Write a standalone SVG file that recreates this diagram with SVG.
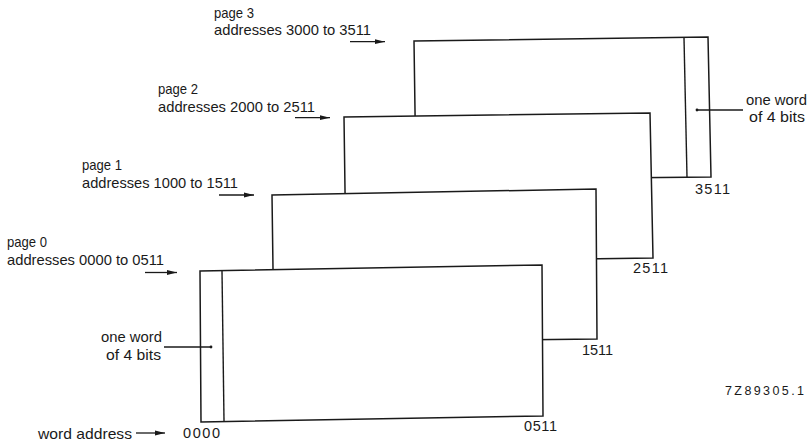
<svg xmlns="http://www.w3.org/2000/svg" width="809" height="443" viewBox="0 0 809 443">
<defs>
<style>
.pg{fill:#fff;stroke:#1a1a1a;stroke-width:1.5;stroke-linejoin:miter}
.ln{fill:none;stroke:#1a1a1a;stroke-width:1.4}
.ar{fill:none;stroke:#1a1a1a;stroke-width:1.3}
.t{font-family:"Liberation Sans",Arial,sans-serif;font-size:15px;fill:#1a1a1a}
.n{font-family:"Liberation Sans",Arial,sans-serif;font-size:14.5px;fill:#1a1a1a}
.c{font-family:"Liberation Sans",Arial,sans-serif;font-size:12.5px;fill:#1a1a1a}
</style>
<marker id="ah" viewBox="0 0 10 6" refX="10" refY="3" markerWidth="10" markerHeight="6" markerUnits="userSpaceOnUse" orient="auto">
<path d="M0,0.6 L10,3 L0,5.4 Z" fill="#1a1a1a"/>
</marker>
</defs>
<rect width="809" height="443" fill="#fff"/>

<g id="page3">
<polygon class="pg" points="414,41 708,37 711,177 416,180"/>
<line class="ln" x1="684" y1="38" x2="687" y2="177"/>
<text class="n" x="695" y="194" textLength="35" lengthAdjust="spacing">3511</text>
</g>
<g id="page2">
<polygon class="pg" points="344,117 650,113 653,258 346,262"/>
<text class="n" x="633" y="273" textLength="35" lengthAdjust="spacing">2511</text>
</g>
<g id="page1">
<polygon class="pg" points="272,195 596,189 597,339 274,343"/>
<text class="n" x="582" y="355" textLength="31" lengthAdjust="spacing">1511</text>
</g>
<g id="page0">
<polygon class="pg" points="200,271 542,265 543,416 201,422"/>
<line class="ln" x1="222" y1="271" x2="224" y2="421"/>
<text class="n" x="524" y="431" textLength="33" lengthAdjust="spacing">0511</text>
<text class="n" x="183" y="438" textLength="37" lengthAdjust="spacing">0000</text>
</g>

<g id="label-page3">
<text class="t" x="214" y="17.5" textLength="40" lengthAdjust="spacingAndGlyphs">page 3</text>
<text class="t" x="214" y="35" textLength="157" lengthAdjust="spacingAndGlyphs">addresses 3000 to 3511</text>
</g>
<g id="label-page2">
<text class="t" x="158" y="94" textLength="40" lengthAdjust="spacingAndGlyphs">page 2</text>
<text class="t" x="158" y="111.5" textLength="157" lengthAdjust="spacingAndGlyphs">addresses 2000 to 2511</text>
</g>
<g id="label-page1">
<text class="t" x="82" y="170" textLength="40" lengthAdjust="spacingAndGlyphs">page 1</text>
<text class="t" x="82" y="188" textLength="156" lengthAdjust="spacingAndGlyphs">addresses 1000 to 1511</text>
</g>
<g id="label-page0">
<text class="t" x="7" y="246.5" textLength="40" lengthAdjust="spacingAndGlyphs">page 0</text>
<text class="t" x="7" y="264.5" textLength="157" lengthAdjust="spacingAndGlyphs">addresses 0000 to 0511</text>
</g>
<g id="label-word-right">
<text class="t" x="746" y="105" textLength="61" lengthAdjust="spacingAndGlyphs">one word</text>
<text class="t" x="749" y="122" textLength="56" lengthAdjust="spacingAndGlyphs">of 4 bits</text>
</g>
<g id="label-word-left">
<text class="t" x="101" y="342" textLength="61" lengthAdjust="spacingAndGlyphs">one word</text>
<text class="t" x="106" y="359.5" textLength="55" lengthAdjust="spacingAndGlyphs">of 4 bits</text>
</g>
<g id="label-word-address">
<text class="t" x="38" y="438.5" textLength="94" lengthAdjust="spacingAndGlyphs">word address</text>
</g>
<g id="label-code">
<text class="c" x="725" y="395" textLength="79" lengthAdjust="spacing">7Z89305.1</text>
</g>

<g id="connectors">
<line class="ar" x1="350" y1="41.7" x2="385" y2="41.7" marker-end="url(#ah)"/>
<line class="ar" x1="295" y1="117.7" x2="330" y2="117.7" marker-end="url(#ah)"/>
<line class="ar" x1="219" y1="195" x2="254" y2="195" marker-end="url(#ah)"/>
<line class="ar" x1="145" y1="272.5" x2="177" y2="272.5" marker-end="url(#ah)"/>
<line class="ar" x1="136" y1="433" x2="165" y2="433" marker-end="url(#ah)"/>
<line class="ar" x1="697" y1="110" x2="743" y2="110"/>
<circle cx="697" cy="110" r="1.4" fill="#1a1a1a"/>
<line class="ar" x1="164" y1="347" x2="211" y2="347"/>
<circle cx="211" cy="347" r="1.4" fill="#1a1a1a"/>
</g>
</svg>
